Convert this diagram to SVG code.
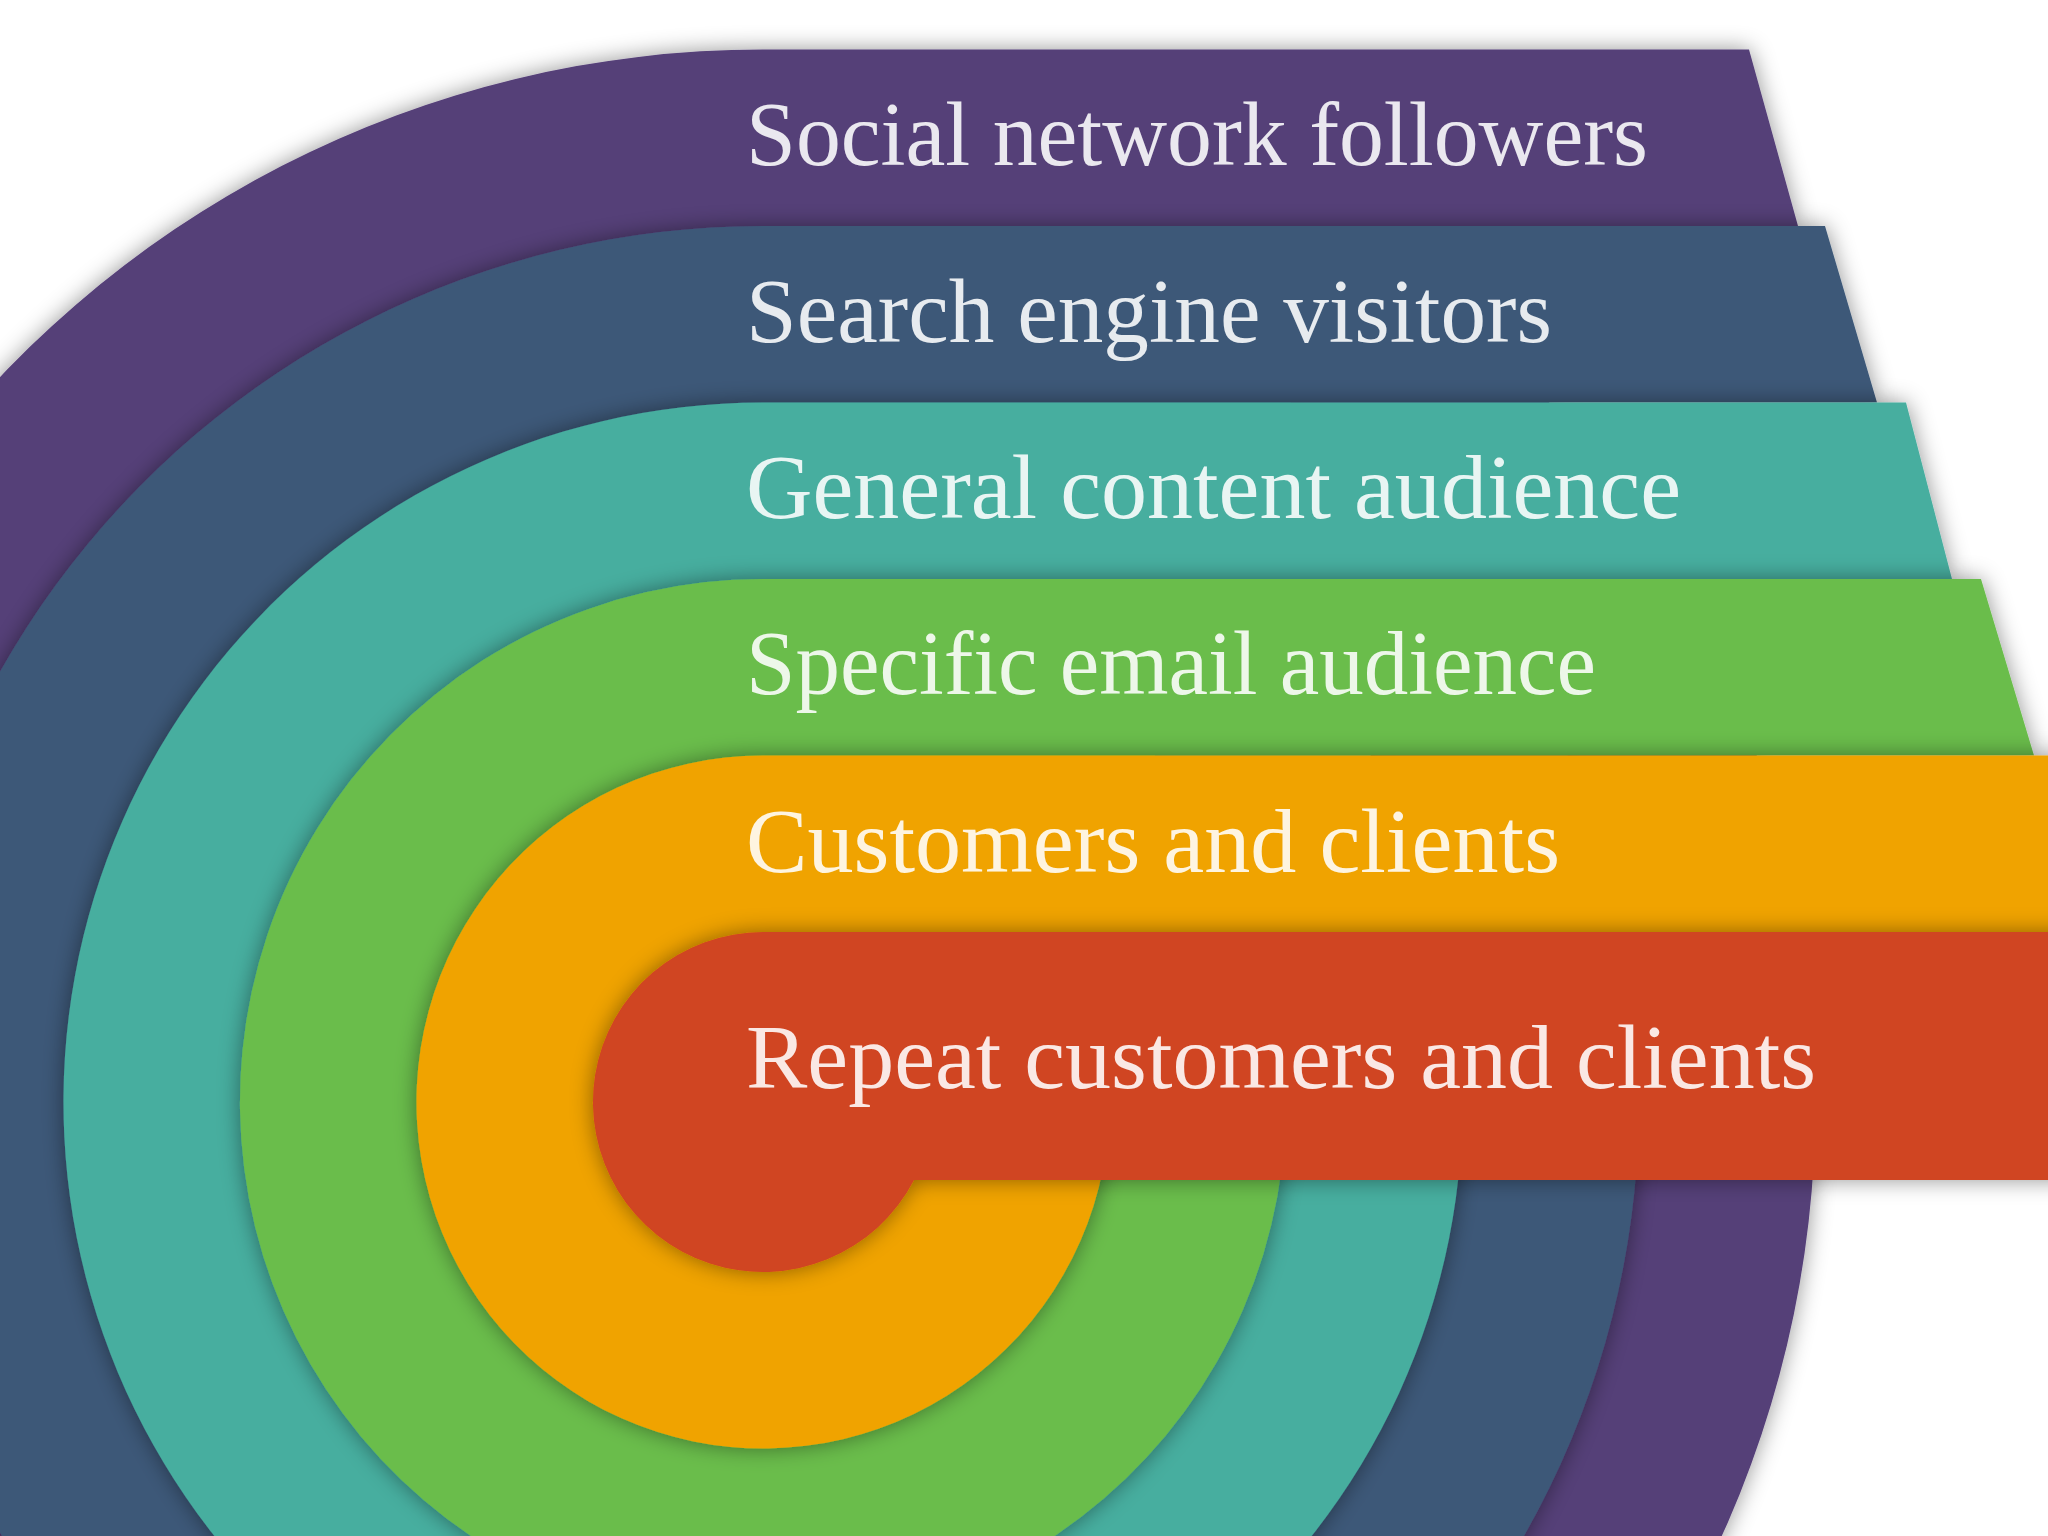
<svg xmlns="http://www.w3.org/2000/svg" width="2048" height="1536" viewBox="0 0 2048 1536">
  <defs>
    <filter id="sh" x="-20%" y="-20%" width="140%" height="140%">
      <feDropShadow dx="0" dy="0" stdDeviation="11" flood-color="#000" flood-opacity="0.42"/>
    </filter>
  </defs>
  <style>
    .lbl { font-family: "Liberation Serif", "DejaVu Serif", serif; font-size: 90px; fill: #ffffff; fill-opacity: 0.88; }
    .band { filter: url(#sh); }
  </style>
  <rect x="0" y="0" width="2048" height="1536" fill="#ffffff"/>

  <g id="node-social">
    <path class="band" fill="#553f78" d="M763,49.5 L1749,49.5 L1798,226 L1346.4,226 A1052.5,1052.5 0 1 1 763,49.5 Z"/>
    <text class="lbl" x="746" y="165" textLength="902" lengthAdjust="spacingAndGlyphs">Social network followers</text>
  </g>

  <g id="node-search">
    <path class="band" fill="#3d5878" d="M763,226 L1825,226 L1877,402.5 L1290.3,402.5 A876,876 0 1 1 763,226 Z"/>
    <text class="lbl" x="746" y="342" textLength="806" lengthAdjust="spacingAndGlyphs">Search engine visitors</text>
  </g>

  <g id="node-general">
    <path class="band" fill="#47ae9f" d="M763,402.5 L1906,402.5 L1952,579 L1227.5,579 A699.5,699.5 0 1 1 763,402.5 Z"/>
    <text class="lbl" x="746" y="518" textLength="935" lengthAdjust="spacingAndGlyphs">General content audience</text>
  </g>

  <g id="node-email">
    <path class="band" fill="#6abd4b" d="M763,579 L1981,579 L2034,755.5 L1154.7,755.5 A523,523 0 1 1 763,579 Z"/>
    <text class="lbl" x="746" y="694" textLength="850" lengthAdjust="spacingAndGlyphs">Specific email audience</text>
  </g>

  <g id="node-customers">
    <path class="band" fill="#f0a300" d="M763,755.5 L2120,755.5 L2120,932 L1064.9,932 A346.5,346.5 0 1 1 763,755.5 Z"/>
    <text class="lbl" x="746" y="872" textLength="814" lengthAdjust="spacingAndGlyphs">Customers and clients</text>
  </g>

  <g id="node-repeat">
    <path class="band" fill="#d04422" d="M763,932 L2120,932 L2120,1180 L914,1180 A170,170 0 1 1 763,932 Z"/>
    <text class="lbl" x="746" y="1088" textLength="1070" lengthAdjust="spacingAndGlyphs">Repeat customers and clients</text>
  </g>

  <g id="connectors"/>
</svg>
